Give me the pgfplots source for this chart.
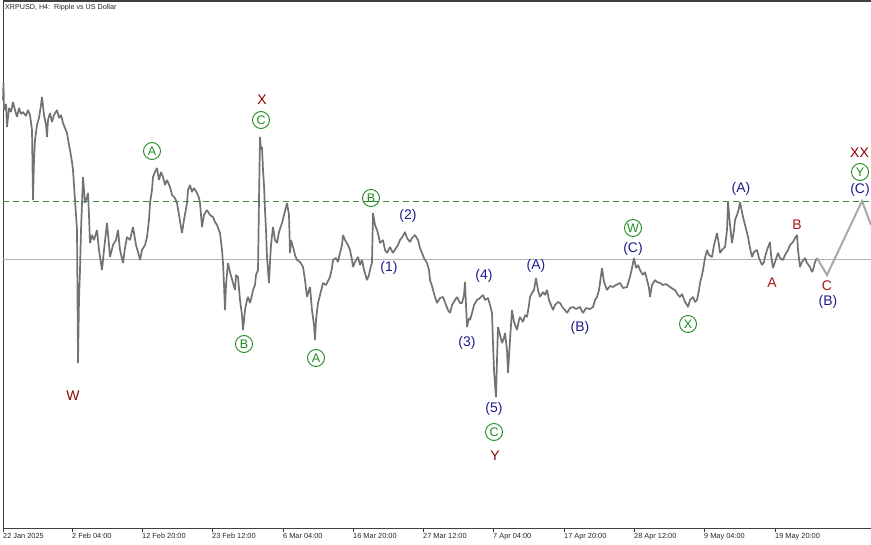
\documentclass[border=0pt]{standalone}
\usepackage{fontspec}
\setmainfont{Liberation Sans}
\usepackage{pgfplots}
\pgfplotsset{compat=1.18}

\definecolor{price}{HTML}{727272}
\definecolor{proj}{HTML}{A8A8A8}
\definecolor{maroon}{HTML}{8B0000}
\definecolor{navy}{HTML}{1C1C8C}
\definecolor{wred}{HTML}{A81414}
\definecolor{wgreen}{HTML}{1E8A1E}
\definecolor{dashgreen}{HTML}{3F8A3F}

\tikzset{
  lbl/.style={font=\fontsize{14}{16}\selectfont, inner sep=0pt},
  circ/.style={circle, draw=wgreen, text=wgreen, line width=0.9bp,
    minimum size=17bp, inner sep=0pt, font=\fontsize{12.5}{13}\selectfont},
}

\begin{document}
\begin{tikzpicture}
\begin{axis}[
  scale only axis,
  width=868bp, height=527bp,
  xmin=3, xmax=871, ymin=1, ymax=528,
  y dir=reverse,
  clip=false,
  axis line style={draw=none},
  ytick=\empty,
  xtick={3,72,142,212,283,353,423,493,564,634,704,775},
  xticklabels={{22 Jan 2025},{2 Feb 04:00},{12 Feb 20:00},{23 Feb 12:00},{6 Mar 04:00},{16 Mar 20:00},{27 Mar 12:00},{7 Apr 04:00},{17 Apr 20:00},{28 Apr 12:00},{9 May 04:00},{19 May 20:00}},
  xtick pos=bottom,
  xtick align=outside,
  major tick length=4bp,
  tick style={black!80, line width=0.6bp},
  xticklabel style={anchor=north west, inner sep=0pt, yshift=-1bp,
    font=\fontsize{7.4}{8}\selectfont, text=black!85},
]

% frame
\draw[black!75, line width=1.6bp] (axis cs:3,1) -- (axis cs:871,1);
\draw[black!75, line width=0.8bp] (axis cs:3,1) -- (axis cs:3,528);
\draw[black!75, line width=0.8bp] (axis cs:3,528) -- (axis cs:871,528);

% levels
\addplot[black!30, line width=0.8bp] coordinates {(3,259) (871,259)};
\addplot[dashgreen, line width=0.9bp, dash pattern=on 6bp off 4bp] coordinates {(3,201) (871,201)};

% price path
\addplot[price, line width=1.7bp, line join=bevel] coordinates {
(3,100)(3.5,83)(4,110)(6,104)(7,127)(9,108)(11,112)(13,102)(15,110)(17,117)(19,108)(21,114)(23,112)(26,116)(28,110)(30,115)(32,130)(33,200)(34,160)(35,140)(37,125)(39,118)(41,105)(42,97)(44,115)(46,125)(47,137)(48,120)(50,113)(52,122)(54,115)(57,110)(59,118)(61,115)(63,123)(65,128)(67,133)(69,145)(70,150)(72,162)(73,170)(74,185)(75,200)(76,215)(77,230)(78,363)(79,300)(80,270)(81,230)(83,177)(84,190)(85,203)(87,197)(88,193)(89,215)(90,243)(92,235)(94,240)(97,230)(99,250)(102,270)(104,250)(107,223)(109,245)(110,257)(113,245)(116,240)(118,230)(120,250)(123,263)(125,248)(127,237)(130,240)(133,227)(136,245)(138,252)(140,260)(142,250)(145,245)(147,237)(149,220)(150,203)(152,190)(153,177)(155,172)(157,168)(159,180)(161,172)(163,177)(165,185)(167,180)(170,187)(172,195)(175,198)(177,203)(179,215)(182,233)(184,220)(187,203)(188,190)(190,185)(192,192)(194,188)(197,193)(199,198)(200,203)(202,227)(204,215)(207,210)(210,215)(213,217)(215,222)(217,225)(220,233)(222,250)(223,263)(224,285)(225,310)(226,285)(228,263)(230,272)(233,283)(235,290)(236,275)(238,277)(240,300)(242,315)(243,330)(245,310)(247,300)(248,297)(250,303)(252,295)(253,290)(255,285)(256,275)(258,270)(259,200)(260,137)(261,150)(262,147)(263,170)(264,185)(265,210)(266,230)(267,257)(268,270)(269,283)(270,262)(271,245)(273,227)(275,240)(277,243)(279,232)(282,223)(284,215)(287,203)(289,215)(290,253)
(291,240)(293,247)(295,255)(297,260)(300,262)(303,267)(305,280)(307,297)(309,290)(310,287)(312,310)(314,325)(315,340)(316,320)(318,303)(320,295)(323,283)(326,285)(330,277)(332,268)(333,260)(336,258)(338,262)(340,253)(342,245)(343,235)(345,240)(348,245)(350,250)(352,260)(353,267)(355,262)(358,257)(360,265)(362,260)(364,270)(367,280)(369,275)(370,270)(372,262)(373,213)(375,225)(377,230)(379,238)(380,243)(383,240)(385,250)(387,253)(390,247)(393,253)(396,248)(398,245)(400,240)(403,236)(405,232)(407,238)(410,242)(412,238)(415,235)(418,240)(420,248)(422,253)(424,258)(427,263)(429,270)(430,280)(432,286)(433,290)(435,297)(437,303)(440,298)(443,297)(446,305)(448,310)(450,313)(452,305)(455,300)(457,297)(460,303)(462,303)(464,295)(465,282)(466,305)(467,327)(469,318)(470,320)(472,313)(474,305)(477,300)(480,298)(483,295)(485,300)(488,298)(490,305)(492,313)(493,343)(494,370)(495,385)(496,397)(497,360)(498,327)(500,335)(502,343)(504,338)(505,333)(507,350)(508,373)(510,340)(512,310)(514,322)(517,330)(519,320)(520,317)(523,322)(525,315)(527,317)(529,305)(530,297)(532,293)(534,290)(536,278)(538,290)(540,297)(543,292)(545,295)(547,290)(549,300)(551,305)(553,310)(555,305)(558,302)(560,303)(563,308)(565,310)(567,313)(570,308)(573,307)(576,309)(580,307)
(583,313)(586,308)(590,309)(593,307)(595,300)(597,297)(599,290)(602,268)(604,282)(607,290)(610,286)(613,287)(616,285)(620,283)(623,288)(627,287)(629,280)(630,277)(632,268)(634,258)(636,268)(638,265)(640,270)(643,275)(645,272)(647,280)(649,288)(650,297)(652,285)(655,280)(657,282)(660,283)(663,285)(666,284)(670,287)(673,289)(675,290)(678,295)(680,297)(682,294)(685,302)(687,305)(688,307)(690,300)(693,297)(695,302)(697,300)(699,290)(700,283)(702,275)(703,270)(705,258)(707,250)(709,255)(712,257)(714,245)(717,233)(719,245)(720,253)(722,250)(725,247)(727,230)(728,202)(730,225)(732,243)(734,230)(735,220)(737,215)(739,208)(740,202)(742,212)(743,217)(745,225)(748,237)(750,248)(752,257)(754,252)(757,250)(759,258)(762,265)(764,262)(765,257)(767,250)(770,242)(771,255)(773,268)(775,262)(778,253)(780,258)(783,260)(785,255)(788,250)(790,245)(793,242)(795,238)(797,235)(798,250)(800,267)(802,262)(805,258)(807,263)(810,267)(812,272)(813,270)(815,262)(817,258)
};

% projected path
\addplot[proj, line width=2bp] coordinates {(817,258) (827,275) (862,201) (871,225)};

% wave labels
\node[lbl, text=maroon] at (axis cs:73,396) {W};
\node[lbl, text=maroon] at (axis cs:262,100) {X};
\node[lbl, text=maroon] at (axis cs:495,456) {Y};
\node[lbl, text=maroon, anchor=west] at (axis cs:850,153) {XX};

\node[circ] at (axis cs:152,151) {A};
\node[circ] at (axis cs:244,344) {B};
\node[circ] at (axis cs:261,120) {C};
\node[circ] at (axis cs:316,358) {A};
\node[circ] at (axis cs:371,198) {B};
\node[circ] at (axis cs:494,432) {C};
\node[circ] at (axis cs:633,228) {W};
\node[circ] at (axis cs:688,324) {X};
\node[circ] at (axis cs:860,172) {Y};

\node[lbl, text=navy] at (axis cs:389,268) {(1)};
\node[lbl, text=navy] at (axis cs:408,216) {(2)};
\node[lbl, text=navy] at (axis cs:467,343) {(3)};
\node[lbl, text=navy] at (axis cs:484,276) {(4)};
\node[lbl, text=navy] at (axis cs:494,409) {(5)};
\node[lbl, text=navy] at (axis cs:536,266) {(A)};
\node[lbl, text=navy] at (axis cs:580,328) {(B)};
\node[lbl, text=navy] at (axis cs:633,249) {(C)};
\node[lbl, text=navy] at (axis cs:741,189) {(A)};
\node[lbl, text=navy] at (axis cs:828,302) {(B)};
\node[lbl, text=navy] at (axis cs:860,190) {(C)};

\node[lbl, text=wred] at (axis cs:772,283) {A};
\node[lbl, text=wred] at (axis cs:797,225) {B};
\node[lbl, text=wred] at (axis cs:827,286) {C};

% title
\node[anchor=north west, inner sep=0pt, font=\fontsize{7.2}{8}\selectfont, text=black!85]
  at (axis cs:5,4) {XRPUSD, H4:\ \ Ripple vs US Dollar};
\end{axis}
\pgfresetboundingbox
\path[use as bounding box] (-3bp,-17bp) rectangle (868bp,528bp);
\end{tikzpicture}
\end{document}
